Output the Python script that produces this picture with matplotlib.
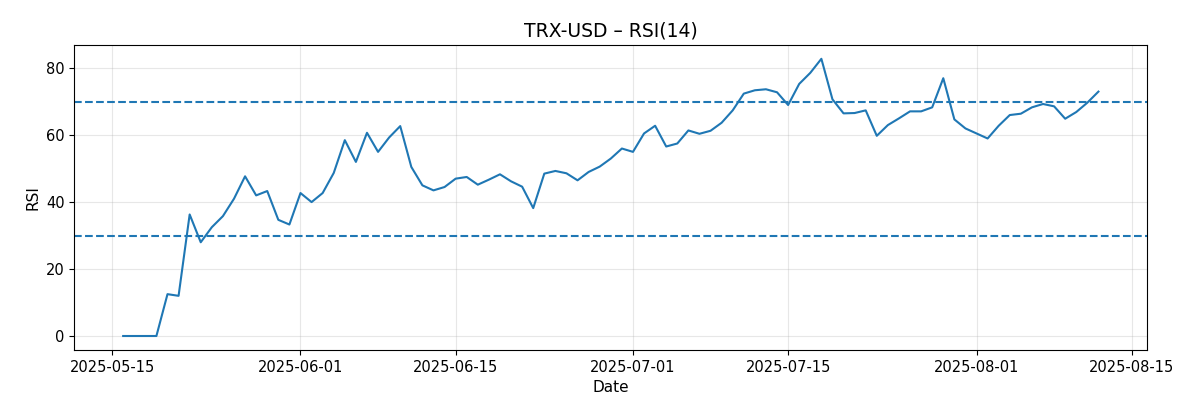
import numpy as np
import pandas as pd
from matplotlib import pyplot as plt
import matplotlib.dates as mdates

# Data
dates = pd.date_range("2025-05-16", "2025-08-12", freq="D")
rsi = [0, 0, 0, 0, 12.5, 12, 36.3, 28, 32.5, 35.8,
       41, 47.7, 42, 43.3, 34.7, 33.3, 42.7, 40, 42.7, 48.7,
       58.5, 52, 60.7, 55, 59.3, 62.7, 50.5, 45, 43.5, 44.5,
       47, 47.5, 45.2, 46.7, 48.3, 46.2, 44.6, 38.2, 48.5, 49.3,
       48.6, 46.5, 49, 50.6, 53, 56, 55, 60.5, 62.8, 56.6,
       57.5, 61.4, 60.4, 61.3, 63.7, 67.4, 72.4, 73.4, 73.7, 72.8,
       69, 75.3, 78.6, 82.8, 70.7, 66.5, 66.6, 67.4, 59.8, 63,
       65, 67.1, 67.1, 68.3, 77, 64.7, 62, 60.5, 59, 62.8,
       66, 66.4, 68.3, 69.3, 68.6, 64.9, 66.9, 69.7, 73]
overbought = 70
oversold = 30
tick_dates = ["2025-05-15", "2025-06-01", "2025-06-15", "2025-07-01",
              "2025-07-15", "2025-08-01", "2025-08-15"]

fig, ax = plt.subplots(figsize=(12, 4.2), dpi=100)
ax.plot(dates, rsi, color="#1f77b4", linewidth=1.5)
ax.axhline(overbought, linestyle="--", color="#1f77b4", linewidth=1.5)
ax.axhline(oversold, linestyle="--", color="#1f77b4", linewidth=1.5)

ax.set_xticks(pd.to_datetime(tick_dates))
ax.xaxis.set_major_formatter(mdates.DateFormatter("%Y-%m-%d"))
ax.tick_params(labelsize=10.5)
ax.grid(True, alpha=0.3)
ax.set_title("TRX-USD – RSI(14)", fontsize=13.5)
ax.set_xlabel("Date", fontsize=11)
ax.set_ylabel("RSI", fontsize=11)
fig.subplots_adjust(left=0.062, right=0.956, top=0.893, bottom=0.167)
fig.savefig("out.png")
